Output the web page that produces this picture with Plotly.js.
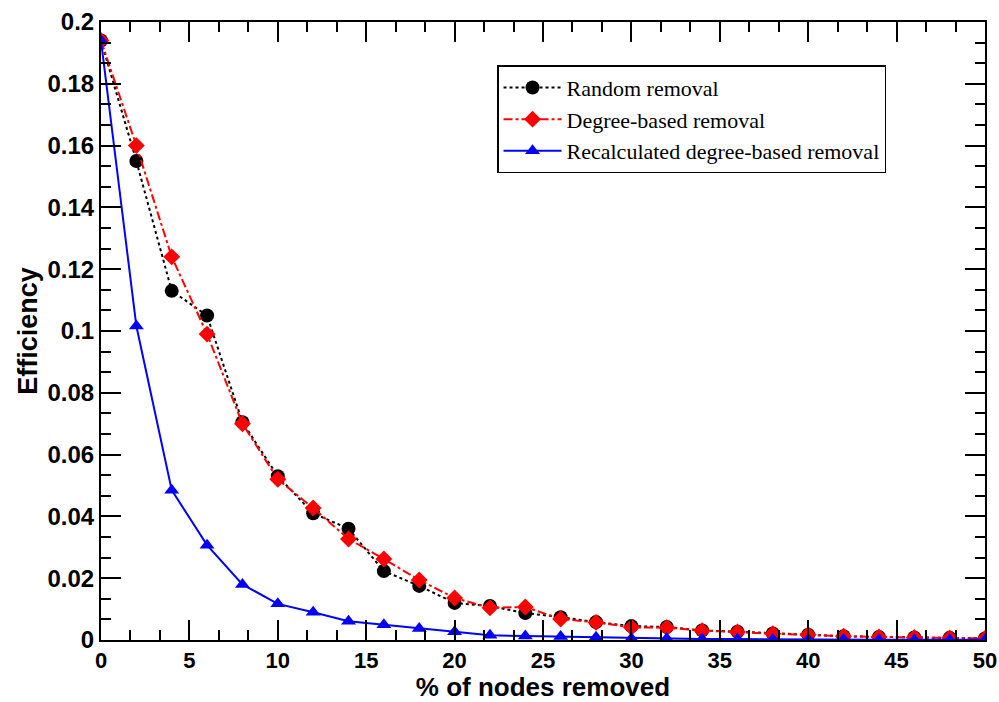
<!DOCTYPE html>
<html>
<head>
<meta charset="utf-8">
<script src="https://cdn.plot.ly/plotly-3.0.1.min.js"></script>
<style>html,body{margin:0;padding:0;background:#fff;}#chart{width:999px;height:702px;}</style>
</head>
<body>
<div id="chart"></div>
<script>
const xPct = [0,2,4,6,8,10,12,14,16,18,20,22,24,26,28,30,32,34,36,38,40,42,44,46,48,50];
const randomRemoval = [0.194,0.155,0.113,0.105,0.0705,0.053,0.041,0.036,0.0223,0.0175,0.012,0.011,0.0087,0.0074,0.0058,0.0045,0.0042,0.0031,0.0027,0.0021,0.0017,0.0012,0.0010,0.0008,0.0007,0.0005];
const degreeRemoval = [0.194,0.160,0.124,0.099,0.070,0.052,0.0427,0.0327,0.0262,0.0194,0.0136,0.0104,0.0107,0.0068,0.0057,0.0041,0.0040,0.0030,0.0026,0.0020,0.0017,0.0012,0.0010,0.0008,0.0007,0.0005];
const recalcRemoval = [0.194,0.1016,0.0485,0.0307,0.018,0.0117,0.009,0.0061,0.0049,0.0037,0.0027,0.0015,0.0013,0.0011,0.0009,0.0005,0.0005,0.0003,0.0003,0.0002,0.0002,0.0002,0.0001,0.0001,0.0001,0.0001];
const seriesNames = ['Random removal','Degree-based removal','Recalculated degree-based removal'];

const traces = [
  {x:xPct, y:randomRemoval, name:seriesNames[0], mode:'lines+markers',
   line:{color:'#000', width:2, dash:'dot'}, marker:{symbol:'circle', size:14, color:'#000'}},
  {x:xPct, y:degreeRemoval, name:seriesNames[1], mode:'lines+markers',
   line:{color:'#ff0000', width:2, dash:'dashdot'}, marker:{symbol:'diamond', size:13, color:'#ff0000'}},
  {x:xPct, y:recalcRemoval, name:seriesNames[2], mode:'lines+markers',
   line:{color:'#0000ff', width:2}, marker:{symbol:'triangle-up', size:13, color:'#0000ff'}}
];

const fam = 'Liberation Sans, Arial, sans-serif';
const layout = {
  width:999, height:702,
  margin:{l:101, r:14, t:22, b:62},
  paper_bgcolor:'#fff', plot_bgcolor:'#fff',
  showlegend:true,
  legend:{x:0.448, y:0.93, xanchor:'left', yanchor:'top', bgcolor:'#fff', bordercolor:'#000', borderwidth:1.5,
    font:{family:'Liberation Serif, Times New Roman, serif', size:22, color:'#000'}, tracegroupgap:0, itemwidth:58},
  xaxis:{range:[0,50], dtick:5, tick0:0, ticks:'inside', ticklen:20, tickwidth:2, tickcolor:'#000',
    showline:true, linecolor:'#000', linewidth:2, mirror:'ticks', showgrid:false, zeroline:false,
    minor:{dtick:5/3, tick0:0, ticks:'inside', ticklen:10, tickwidth:2, tickcolor:'#000', showgrid:false},
    tickfont:{family:fam, size:22, color:'#000', weight:'bold'},
    title:{text:'% of nodes removed', font:{family:fam, size:26, color:'#000', weight:'bold'}, standoff:3}},
  yaxis:{range:[0,0.2], dtick:0.02, tick0:0, ticks:'inside', ticklen:20, tickwidth:2, tickcolor:'#000',
    showline:true, linecolor:'#000', linewidth:2, mirror:'ticks', showgrid:false, zeroline:false,
    minor:{dtick:0.02/3, tick0:0, ticks:'inside', ticklen:10, tickwidth:2, tickcolor:'#000', showgrid:false},
    tickfont:{family:fam, size:24, color:'#000', weight:'bold'}, tickformat:'~g',
    title:{text:'Efficiency', font:{family:fam, size:27, color:'#000', weight:'bold'}, standoff:2}}
};

Plotly.newPlot('chart', traces, layout, {displayModeBar:false, staticPlot:true});
</script>
</body>
</html>
